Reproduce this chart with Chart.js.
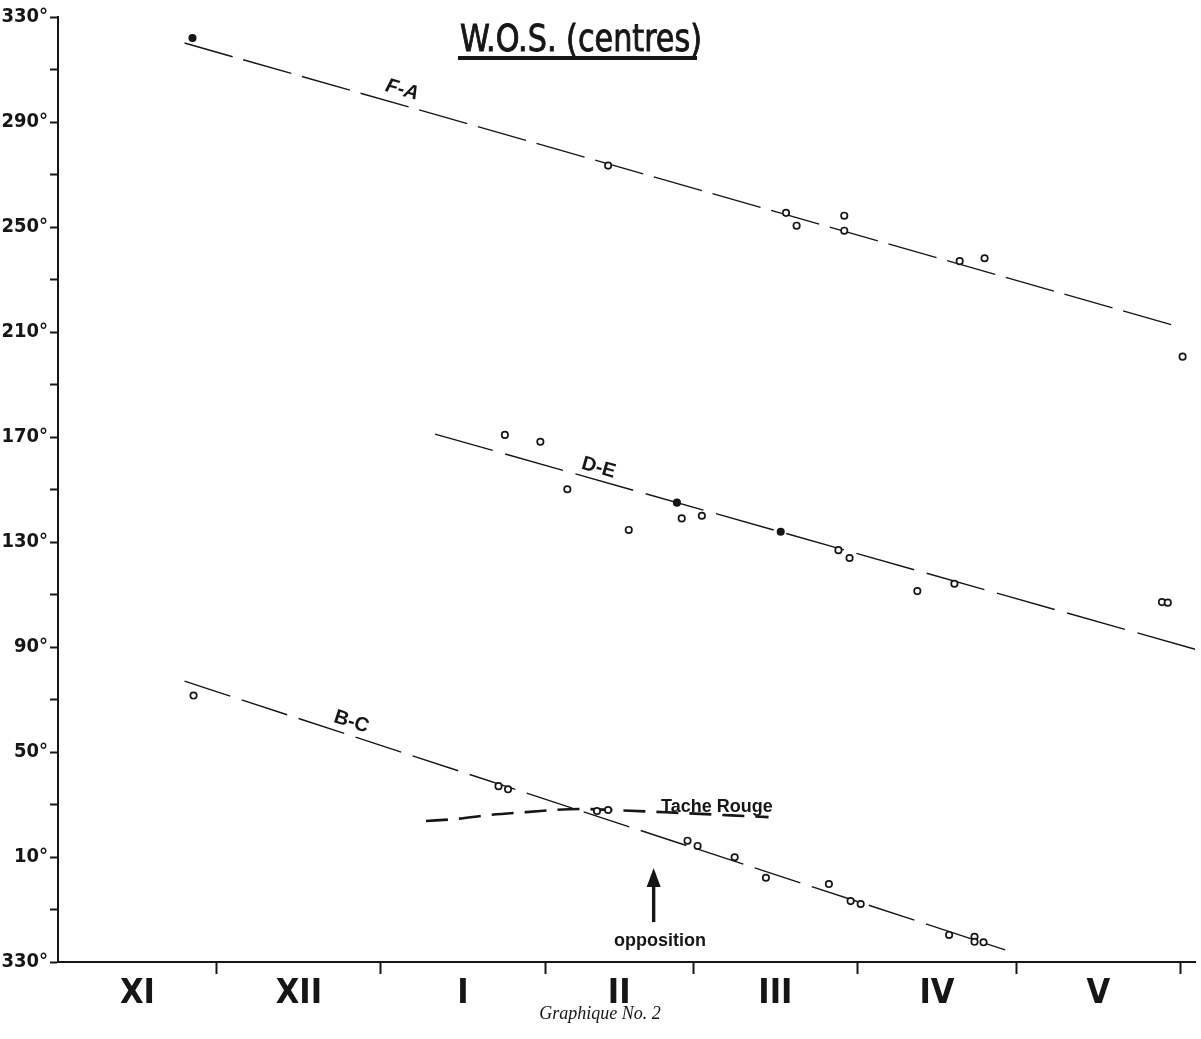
<!DOCTYPE html>
<html>
<head>
<meta charset="utf-8">
<title>W.O.S. (centres)</title>
<script src="https://cdn.jsdelivr.net/npm/chart.js@4.4.1/dist/chart.umd.min.js"></script>
<style>
    html, body { margin: 0; padding: 0; background: #fff; }
    #wrap { position: relative; width: 1201px; height: 1039px; }
</style>
</head>
<body>
<div id="wrap"><canvas id="wosChart"></canvas></div>
<script>
// ================= DATA =================
// x = days counted from 1 November, y = longitude in degrees (values below 0 are 330°-360°)

const monthNames = ["XI", "XII", "I", "II", "III", "IV", "V"];
const monthStarts = [0, 30, 61, 92, 120, 151, 181, 212];

const yLabelValues = [-30, 10, 50, 90, 130, 170, 210, 250, 290, 330];
const yLabelTexts = ["330°", "10°", "50°", "90°", "130°", "170°", "210°", "250°", "290°", "330°"];
const yMinorValues = [-10, 30, 70, 110, 150, 190, 230, 270, 310];

// F-A
const faOpenX = [103.9, 137.5, 139.5, 148.5, 148.5, 170.3, 175.0, 212.4];
const faOpenY = [273.4, 255.4, 250.5, 254.3, 248.6, 237.0, 238.1, 200.6];
const faFilledX = [25.4];
const faFilledY = [322.0];
const faLineX = [23.9, 211.0];
const faLineY = [320.1, 212.4];

// D-E
const deOpenX = [84.4, 91.1, 96.2, 107.8, 117.8, 121.6, 147.4, 149.5, 162.3, 169.3, 208.5, 209.6];
const deOpenY = [170.8, 168.2, 150.1, 134.6, 139.0, 140.0, 126.9, 123.9, 111.3, 114.1, 107.1, 106.9];
const deFilledX = [116.9, 136.5];
const deFilledY = [145.0, 133.9];
const deLineX = [71.2, 215.2];
const deLineY = [171.1, 88.9];

// B-C
const bcOpenX = [25.6, 83.2, 85.0, 101.8, 103.9, 118.9, 120.8, 127.8, 133.7, 145.6, 149.7, 151.6, 168.3, 173.1, 173.1, 174.8];
const bcOpenY = [71.5, 37.0, 35.8, 27.5, 27.9, 16.2, 14.2, 9.9, 2.1, -0.3, -6.8, -7.9, -19.7, -20.4, -22.3, -22.5];
const bcLineX = [23.9, 178.9];
const bcLineY = [77.0, -25.4];

// Tache Rouge
const trX = [69.5, 75.1, 81.4, 88.4, 98.4, 104.6, 117.2, 134.2];
const trY = [23.7, 24.5, 26.0, 27.1, 28.3, 27.9, 26.8, 25.2];

// opposition arrow (day, from / to degrees)
const oppositionDay = 112.5;
const oppositionFrom = -14.8;
const oppositionTo = 5.8;

// line names and where they sit
const lineLabelText = ["F-A", "D-E", "B-C"];
const lineLabelX = [65.0, 102.1, 55.4];
const lineLabelY = [302.2, 158.2, 61.4];

const INK = "#161616";

function toPoints(xs, ys) {
    return xs.map((x, i) => ({ x, y: ys[i] }));
}

// ================= DATASETS =================

function fitLine(xs, ys, dash) {
    return {
        data: toPoints(xs, ys),
        showLine: true,
        borderColor: INK,
        borderWidth: 1.4,
        borderDash: dash,
        pointRadius: 0,
        order: 2,
    };
}

function dots(xs, ys, filled) {
    return {
        data: toPoints(xs, ys),
        showLine: false,
        pointRadius: 3.2,
        pointBorderWidth: 1.7,
        pointBorderColor: INK,
        pointBackgroundColor: filled ? INK : "#fff",
        order: 0,
    };
}

const datasets = [
    fitLine(faLineX, faLineY, [50, 11]),
    fitLine(deLineX, deLineY, [60, 13]),
    fitLine(bcLineX, bcLineY, [48, 12]),
    {
        data: toPoints(trX, trY),
        showLine: true,
        borderColor: INK,
        borderWidth: 2.6,
        borderDash: [22, 11],
        cubicInterpolationMode: "monotone",
        pointRadius: 0,
        order: 1,
    },
    dots(faOpenX, faOpenY, false),
    dots(faFilledX, faFilledY, true),
    dots(deOpenX, deOpenY, false),
    dots(deFilledX, deFilledY, true),
    dots(bcOpenX, bcOpenY, false),
];

// ================= AXIS TICKS =================

const monthMids = monthNames.map((_, i) => (monthStarts[i] + monthStarts[i + 1]) / 2);
const monthBounds = monthStarts.slice(1);
const xTickValues = monthMids.concat(monthBounds).sort((a, b) => a - b);
const yTickValues = yLabelValues.concat(yMinorValues).sort((a, b) => a - b);

// ================= ANNOTATIONS =================

const annotationPlugin = {
    id: "wosAnnotations",
    afterDraw(chart) {
        const { ctx } = chart;
        const x = chart.scales.x;
        const y = chart.scales.y;

        ctx.save();
        ctx.fillStyle = INK;
        ctx.strokeStyle = INK;

        // title, squeezed to the width of the original lettering
        ctx.font = "38px 'DejaVu Sans Condensed', 'DejaVu Sans', sans-serif";
        ctx.textBaseline = "alphabetic";
        ctx.textAlign = "left";
        const title = "W.O.S. (centres)";
        const tw = ctx.measureText(title).width;
        ctx.save();
        ctx.translate(460, 51);
        ctx.scale(242 / tw, 1);
        ctx.lineWidth = 0.9;
        ctx.fillText(title, 0, 0);
        ctx.strokeText(title, 0, 0);
        ctx.restore();
        ctx.lineWidth = 4;
        ctx.beginPath();
        ctx.moveTo(458, 58);
        ctx.lineTo(697, 58);
        ctx.stroke();

        // names of the fitted lines, turned along their line
        const lines = [[faLineX, faLineY], [deLineX, deLineY], [bcLineX, bcLineY]];
        lineLabelText.forEach((txt, i) => {
            const [lx, ly] = lines[i];
            const ang = Math.atan2(
                y.getPixelForValue(ly[1]) - y.getPixelForValue(ly[0]),
                x.getPixelForValue(lx[1]) - x.getPixelForValue(lx[0])
            );
            ctx.save();
            ctx.translate(x.getPixelForValue(lineLabelX[i]), y.getPixelForValue(lineLabelY[i]));
            ctx.rotate(ang);
            ctx.font = (i === 0 ? "italic " : "") + "bold 20px 'Liberation Sans', Arial, sans-serif";
            ctx.textAlign = "center";
            ctx.textBaseline = "middle";
            ctx.fillText(txt, 0, 0);
            ctx.restore();
        });

        // Tache Rouge label (the dashed curve runs underneath it)
        ctx.font = "bold 18px 'Liberation Sans', Arial, sans-serif";
        ctx.textAlign = "left";
        ctx.textBaseline = "alphabetic";
        ctx.fillText("Tache Rouge", 661, 812);

        // opposition arrow
        const ax = x.getPixelForValue(oppositionDay);
        const ayFrom = y.getPixelForValue(oppositionFrom);
        const ayTo = y.getPixelForValue(oppositionTo);
        ctx.lineWidth = 3.4;
        ctx.beginPath();
        ctx.moveTo(ax, ayFrom);
        ctx.lineTo(ax, ayTo + 14);
        ctx.stroke();
        ctx.beginPath();
        ctx.moveTo(ax, ayTo);
        ctx.lineTo(ax - 7, ayTo + 19);
        ctx.lineTo(ax + 7, ayTo + 19);
        ctx.closePath();
        ctx.fill();

        ctx.font = "bold 18px 'Liberation Sans', Arial, sans-serif";
        ctx.textAlign = "center";
        ctx.fillText("opposition", 660, 946);

        // caption
        ctx.font = "italic 18px 'Liberation Serif', 'Times New Roman', serif";
        ctx.fillText("Graphique No. 2", 600, 1019);

        ctx.restore();
    },
};

// ================= CHART =================

new Chart(document.getElementById("wosChart"), {
    type: "scatter",
    data: { datasets },
    options: {
        responsive: true,
        maintainAspectRatio: false,
        animation: false,
        layout: { padding: { top: 17, right: 3, left: 0, bottom: 0 } },
        plugins: {
            legend: { display: false },
            tooltip: { enabled: false },
        },
        scales: {
            x: {
                type: "linear",
                min: 0,
                max: 214.8,
                afterBuildTicks: (scale) => {
                    scale.ticks = xTickValues.map((v) => ({ value: v }));
                },
                afterFit: (scale) => {
                    scale.height = 77;
                },
                border: { display: true, color: INK, width: 2 },
                grid: {
                    drawOnChartArea: false,
                    tickLength: 12,
                    tickWidth: 2,
                    color: (c) => (c.tick && monthBounds.includes(c.tick.value) ? INK : "rgba(0,0,0,0)"),
                },
                ticks: {
                    autoSkip: false,
                    maxRotation: 0,
                    padding: 0,
                    color: INK,
                    font: { family: "'DejaVu Sans Condensed', 'DejaVu Sans', sans-serif", size: 34, weight: "bold" },
                    callback: (value) => {
                        const i = monthMids.indexOf(value);
                        return i >= 0 ? monthNames[i] : "";
                    },
                },
            },
            y: {
                type: "linear",
                min: -30,
                max: 330,
                afterBuildTicks: (scale) => {
                    scale.ticks = yTickValues.map((v) => ({ value: v }));
                },
                afterFit: (scale) => {
                    scale.width = 58;
                },
                border: { display: true, color: INK, width: 2 },
                grid: {
                    drawOnChartArea: false,
                    tickLength: 8,
                    tickWidth: 2,
                    color: INK,
                },
                ticks: {
                    autoSkip: false,
                    padding: 2,
                    color: INK,
                    font: { family: "'DejaVu Sans Condensed', 'DejaVu Sans', sans-serif", size: 20, weight: "bold" },
                    callback: (value) => {
                        const i = yLabelValues.indexOf(value);
                        return i >= 0 ? yLabelTexts[i] : "";
                    },
                },
            },
        },
    },
    plugins: [annotationPlugin],
});
</script>
</body>
</html>
